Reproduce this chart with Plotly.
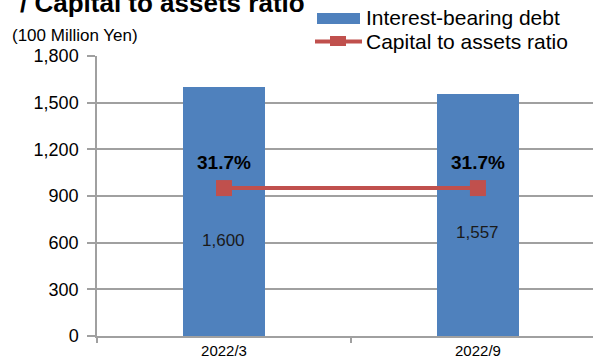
import plotly.graph_objects as go

# Half-year periods
periods = ["2022/3", "2022/9"]
# Interest-bearing debt (100 million yen)
debt = [1600, 1557]
# Capital to assets ratio (%)
capital_ratio = [31.7, 31.7]

y_ticks = [0, 300, 600, 900, 1200, 1500, 1800]

W, H = 593, 361
L, R, T, B = 97, 593, 56, 336  # plot area in pixels

BLUE = "#4F81BD"
RED = "#C0504D"
GRID = "#A0A0A0"
FONT = "Liberation Sans, Arial, sans-serif"


def px(x):
    return (x - L) / (R - L)


def py(y):
    return (B - y) / (B - T)


fig = go.Figure()

fig.add_trace(go.Bar(
    x=periods, y=debt, name="Interest-bearing debt",
    marker=dict(color=BLUE, line=dict(width=0)),
    width=0.323, showlegend=False,
))

fig.add_trace(go.Scatter(
    x=periods, y=capital_ratio, name="Capital to assets ratio",
    yaxis="y2", mode="lines+markers",
    line=dict(color=RED, width=4),
    marker=dict(symbol="square", size=16, color=RED),
    showlegend=False,
))

annotations = []

# Debt labels inside the bars (per-bar vertical offset from the bar top)
debt_label_shift = [-153, -139]
for p, v, s in zip(periods, debt, debt_label_shift):
    annotations.append(dict(
        x=p, y=v, xref="x", yref="y", text=f"{v:,}", showarrow=False,
        yshift=s, font=dict(size=17, color="#1a1a1a", family=FONT),
    ))

# Ratio labels above the markers
for p, v in zip(periods, capital_ratio):
    annotations.append(dict(
        x=p, y=v, xref="x", yref="y2", text=f"<b>{v}%</b>", showarrow=False,
        yshift=26, font=dict(size=19, color="#000000", family=FONT),
    ))

# Unit label and chart title
annotations.append(dict(
    x=px(10), y=py(35), xref="paper", yref="paper", xanchor="left",
    yanchor="middle", text="(100 Million Yen)", showarrow=False,
    font=dict(size=17, color="#000000", family=FONT),
))
annotations.append(dict(
    x=px(18), y=py(3), xref="paper", yref="paper", xanchor="left",
    yanchor="middle", text="<b>/ Capital to assets ratio</b>", showarrow=False,
    font=dict(size=26, color="#000000", family=FONT),
))

# Legend text
annotations.append(dict(
    x=px(364), y=py(17.5), xref="paper", yref="paper", xanchor="left",
    yanchor="middle", text="Interest-bearing debt", showarrow=False,
    font=dict(size=21, color="#000000", family=FONT),
))
annotations.append(dict(
    x=px(364), y=py(41.5), xref="paper", yref="paper", xanchor="left",
    yanchor="middle", text="Capital to assets ratio", showarrow=False,
    font=dict(size=21, color="#000000", family=FONT),
))

# Legend swatches
shapes = [
    dict(type="rect", xref="paper", yref="paper",
         x0=px(317), x1=px(360), y0=py(24), y1=py(13),
         fillcolor=BLUE, line=dict(width=0)),
    dict(type="line", xref="paper", yref="paper",
         x0=px(315), x1=px(362), y0=py(41.5), y1=py(41.5),
         line=dict(color=RED, width=4)),
    dict(type="rect", xref="paper", yref="paper",
         x0=px(330), x1=px(346), y0=py(46), y1=py(36),
         fillcolor=RED, line=dict(width=0)),
]

fig.update_layout(
    width=W, height=H,
    margin=dict(l=L, r=W - R, t=T, b=H - B, pad=0),
    paper_bgcolor="white", plot_bgcolor="white",
    font=dict(family=FONT, color="#000000"),
    bargap=0,
    xaxis=dict(
        type="category", range=[-0.5, 1.453],
        showline=True, linecolor=GRID, linewidth=1.5,
        ticks="outside", tickson="boundaries", ticklen=5,
        tickcolor=GRID, tickwidth=1.5,
        tickfont=dict(size=15, color="#000000"),
        showgrid=False, zeroline=False,
    ),
    yaxis=dict(
        range=[0, 1800], tickvals=y_ticks,
        ticktext=[f"{v:,}" for v in y_ticks],
        showline=True, linecolor=GRID, linewidth=1.5,
        ticks="outside", ticklen=8, tickcolor=GRID, tickwidth=1.5,
        tickfont=dict(size=18, color="#000000"),
        ticklabelstandoff=5,
        showgrid=True, gridcolor=GRID, gridwidth=1.5,
        zeroline=False,
    ),
    yaxis2=dict(
        range=[0, 60], overlaying="y", side="right", visible=False,
        showgrid=False,
    ),
    annotations=annotations,
    shapes=shapes,
    showlegend=False,
)

fig.write_html("out.html")
